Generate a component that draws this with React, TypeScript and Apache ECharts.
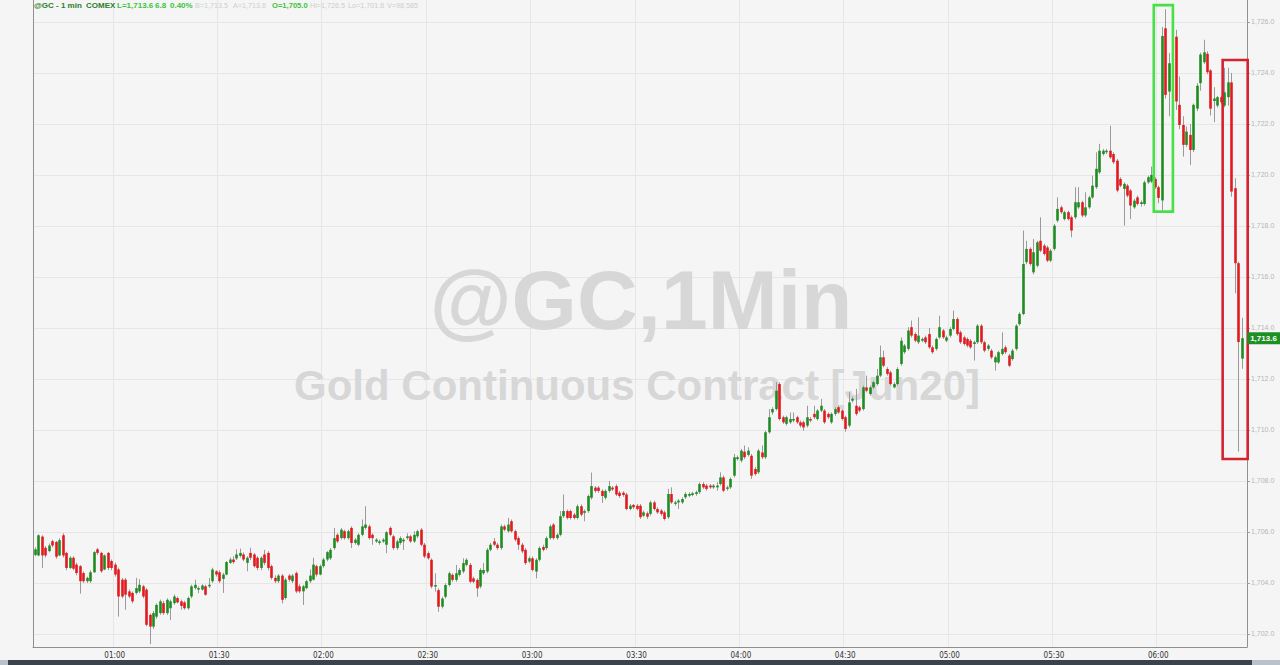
import React, { useEffect, useRef } from 'react';
import * as echarts from 'echarts';

// ---------------- DATA ----------------
const opens: (number | null)[] = [
  1705.10, 1705.08, 1705.82, 1705.38, 1705.25, 1705.64, 1705.61, 1705.08, 1705.87, 1705.18,
  1704.59, 1704.99, 1704.72, 1704.66, 1704.39, 1704.07, 1704.07, 1704.42, 1705.32, 1705.18,
  1704.53, 1705.18, 1704.86, 1704.72, 1704.53, 1704.13, 1704.13, 1703.67, 1703.61, 1703.61,
  1703.67, 1703.87, 1703.74, 1702.75, 1702.29, 1702.68, 1702.82, 1703.21, 1702.82, 1703.01,
  1703.21, 1703.41, 1703.28, 1703.24, 1703.01, 1703.47, 1703.80, 1703.74, 1703.74, 1703.87,
  1703.87, 1704.07, 1704.46, 1704.42, 1704.16, 1704.33, 1704.79, 1704.92, 1704.96, 1705.06,
  1705.12, 1704.79, 1705.18, 1705.12, 1704.99, 1704.59, 1705.12, 1705.18, 1704.66, 1704.20,
  1704.07, 1704.29, 1703.41, 1704.29, 1704.07, 1704.39, 1703.87, 1703.67, 1703.80, 1704.07,
  1704.13, 1704.66, 1704.33, 1704.66, 1704.92, 1704.97, 1705.37, 1705.89, 1705.76, 1706.03,
  1705.76, 1706.16, 1705.57, 1705.50, 1705.89, 1706.16, 1706.22, 1705.89, 1705.63, 1705.57,
  1705.63, 1705.50, 1706.16, 1705.83, 1705.37, 1705.57, 1705.63, 1705.76, 1705.83, 1705.63,
  1705.83, 1706.09, 1705.50, 1705.17, 1704.91, 1703.86, 1703.72, 1703.07, 1703.46, 1703.92,
  1704.32, 1704.12, 1704.32, 1704.45, 1704.71, 1704.71, 1704.18, 1704.12, 1703.86, 1704.38,
  1704.45, 1705.30, 1705.63, 1705.50, 1705.37, 1706.22, 1706.03, 1706.42, 1706.03, 1705.76,
  1705.50, 1705.30, 1704.84, 1704.97, 1704.45, 1704.91, 1705.41, 1705.37, 1705.76, 1706.29,
  1705.76, 1705.89, 1706.62, 1706.82, 1706.82, 1706.68, 1706.55, 1707.01, 1706.75, 1706.82,
  1707.34, 1707.74, 1707.74, 1707.61, 1707.34, 1707.61, 1707.74, 1707.80, 1707.54, 1707.54,
  1707.47, 1706.90, 1707.06, 1707.03, 1707.03, 1706.64, 1706.73, 1706.71, 1707.16, 1706.90,
  1706.84, 1706.77, 1706.58, 1707.49, 1707.10, 1707.16, 1707.16, 1707.36, 1707.42, 1707.45,
  1707.49, 1707.56, 1707.88, 1707.82, 1707.82, 1707.75, 1707.75, 1707.88, 1708.14, 1707.69,
  1707.75, 1708.21, 1708.86, 1708.80, 1709.15, 1709.02, 1708.99, 1708.47, 1708.34, 1709.12,
  1708.93, 1709.91, 1710.69, 1710.82, 1711.80, 1710.50, 1710.24, 1710.30, 1710.37, 1710.50,
  1710.30, 1710.30, 1710.17, 1710.43, 1710.63, 1710.43, 1710.76, 1710.76, 1710.63, 1710.30,
  1710.63, 1710.89, 1710.76, 1710.50, 1710.17, 1711.15, 1710.95, 1710.89, 1710.82, 1711.67,
  1711.41, 1711.67, 1711.80, 1712.13, 1712.85, 1712.39, 1712.26, 1711.67, 1711.80, 1712.59,
  1713.05, 1713.18, 1714.03, 1713.76, 1713.44, 1713.50, 1713.63, 1713.76, 1713.24, 1713.18,
  1713.63, 1713.90, 1713.50, 1713.70, 1713.96, 1714.35, 1713.83, 1713.63, 1713.57, 1713.50,
  1713.37, 1713.44, 1714.09, 1713.44, 1713.18, 1713.11, 1712.65, 1712.65, 1712.98, 1713.24,
  1712.92, 1712.78, 1713.18, 1714.15, 1714.55, 1716.58, 1717.10, 1716.18, 1716.44, 1717.42,
  1717.23, 1717.16, 1716.64, 1717.10, 1718.21, 1718.73, 1718.27, 1718.54, 1718.34, 1718.34,
  1718.73, 1718.93, 1718.41, 1718.73, 1719.12, 1719.52, 1720.10, 1720.82, 1720.89, 1720.95,
  1720.82, 1720.56, 1719.84, 1719.45, 1719.58, 1719.39, 1718.73, 1719.12, 1718.86, 1718.86,
  1719.71, 1719.74, 1719.84, 1719.52, 1719.00, 1725.75, 1723.27, null, 1725.42, 1722.75,
  1721.96, 1721.18, 1721.57, 1720.98, 1722.60, 1723.60, 1724.42, 1724.75, 1724.10, 1722.90,
  1722.72, 1723.05, 1722.72, 1723.05, 1723.63, 1719.48, 1716.54, 1712.80,
];

const closes: (number | null)[] = [
  1705.32, 1705.87, 1705.08, 1705.08, 1705.47, 1705.47, 1705.03, 1705.68, 1705.08, 1704.59,
  1704.99, 1704.56, 1704.39, 1704.07, 1704.07, 1704.20, 1704.42, 1705.21, 1705.18, 1704.46,
  1705.08, 1704.59, 1704.59, 1704.33, 1703.47, 1703.47, 1703.54, 1703.47, 1703.28, 1703.80,
  1703.93, 1703.47, 1702.36, 1702.29, 1702.82, 1703.14, 1703.28, 1702.82, 1703.34, 1703.28,
  1703.47, 1703.24, 1703.10, 1703.01, 1703.41, 1703.87, 1703.93, 1703.80, 1703.90, 1703.54,
  1703.93, 1704.53, 1704.33, 1704.07, 1704.33, 1704.82, 1704.92, 1704.82, 1705.12, 1705.18,
  1704.92, 1704.99, 1704.99, 1704.66, 1704.59, 1704.99, 1704.79, 1704.59, 1704.20, 1704.07,
  1704.29, 1703.34, 1704.13, 1704.13, 1704.29, 1703.67, 1703.67, 1703.87, 1704.07, 1704.29,
  1704.72, 1704.33, 1704.66, 1704.92, 1705.21, 1705.30, 1705.76, 1705.63, 1706.09, 1705.76,
  1706.03, 1705.57, 1705.70, 1705.89, 1706.22, 1706.29, 1705.76, 1705.76, 1705.70, 1705.63,
  1705.70, 1705.99, 1705.89, 1705.37, 1705.63, 1705.76, 1705.70, 1705.83, 1705.63, 1705.89,
  1706.03, 1705.50, 1705.04, 1704.97, 1703.86, 1703.92, 1703.07, 1703.39, 1703.92, 1704.38,
  1704.12, 1704.38, 1704.51, 1704.78, 1704.91, 1704.05, 1704.05, 1703.79, 1704.51, 1704.51,
  1705.30, 1705.50, 1705.50, 1705.37, 1706.22, 1706.09, 1706.29, 1706.03, 1705.70, 1705.50,
  1705.24, 1704.78, 1704.97, 1704.51, 1704.91, 1705.37, 1705.30, 1705.76, 1706.22, 1705.76,
  1705.89, 1706.62, 1706.82, 1706.55, 1706.55, 1706.55, 1707.01, 1706.68, 1706.82, 1707.41,
  1707.80, 1707.61, 1707.61, 1707.41, 1707.61, 1707.80, 1707.67, 1707.47, 1707.41, 1707.45,
  1706.90, 1707.03, 1706.97, 1706.90, 1706.58, 1706.77, 1706.60, 1707.16, 1706.90, 1706.77,
  1706.71, 1706.51, 1707.49, 1707.16, 1707.16, 1707.23, 1707.29, 1707.49, 1707.49, 1707.52,
  1707.56, 1707.88, 1707.75, 1707.69, 1707.75, 1707.82, 1707.82, 1708.14, 1707.62, 1707.75,
  1708.08, 1708.93, 1708.93, 1709.19, 1708.93, 1709.19, 1708.21, 1708.27, 1709.19, 1708.93,
  1709.91, 1710.50, 1710.82, 1711.54, 1710.43, 1710.30, 1710.50, 1710.43, 1710.43, 1710.30,
  1710.17, 1710.10, 1710.50, 1710.37, 1710.50, 1710.76, 1710.95, 1710.30, 1710.50, 1710.63,
  1710.82, 1710.69, 1710.43, 1710.04, 1711.08, 1711.22, 1710.63, 1710.76, 1711.67, 1711.54,
  1711.67, 1711.87, 1712.13, 1712.85, 1712.52, 1712.20, 1711.80, 1711.80, 1712.39, 1713.50,
  1713.31, 1713.90, 1713.70, 1713.50, 1713.70, 1713.57, 1713.44, 1713.24, 1713.05, 1713.57,
  1714.03, 1713.63, 1713.63, 1713.96, 1714.35, 1713.76, 1713.44, 1713.37, 1713.31, 1713.24,
  1713.44, 1714.09, 1713.44, 1713.11, 1713.31, 1712.85, 1712.85, 1713.05, 1713.18, 1713.05,
  1712.52, 1713.11, 1714.09, 1714.55, 1716.51, 1717.10, 1716.51, 1716.97, 1717.36, 1717.03,
  1716.90, 1716.64, 1717.03, 1718.01, 1718.67, 1718.54, 1718.54, 1718.27, 1717.82, 1718.93,
  1718.93, 1718.41, 1718.73, 1719.12, 1719.58, 1720.24, 1720.95, 1720.95, 1720.95, 1720.69,
  1720.50, 1719.39, 1719.58, 1719.65, 1719.19, 1718.80, 1718.99, 1718.86, 1718.93, 1719.71,
  1719.91, 1720.00, 1719.52, 1719.10, 1725.45, 1723.14, 1724.38, null, 1722.88, 1721.96,
  1721.18, 1721.70, 1720.98, 1722.75, 1723.50, 1724.72, 1724.81, 1724.03, 1722.60, 1723.00,
  1723.05, 1722.85, 1723.24, 1723.63, 1719.35, 1716.54, 1713.45, 1713.60,
];

const lows: (number | null)[] = [
  1705.05, 1705.05, 1704.59, 1705.00, 1705.20, 1705.40, 1704.95, 1705.05, 1705.00, 1704.50,
  1704.55, 1704.50, 1704.30, 1703.58, 1704.00, 1704.00, 1704.00, 1704.40, 1705.10, 1704.40,
  1704.50, 1704.50, 1704.50, 1704.25, 1702.68, 1703.40, 1702.95, 1703.40, 1703.20, 1703.55,
  1703.60, 1703.40, 1702.30, 1701.60, 1702.20, 1702.60, 1702.75, 1702.75, 1702.75, 1702.55,
  1703.15, 1703.20, 1702.95, 1702.95, 1702.95, 1703.40, 1703.75, 1703.60, 1703.70, 1703.50,
  1703.80, 1704.00, 1704.25, 1704.00, 1703.61, 1704.30, 1704.75, 1704.75, 1704.90, 1705.00,
  1704.85, 1704.46, 1704.90, 1704.60, 1704.50, 1704.50, 1704.70, 1704.50, 1704.13, 1704.00,
  1704.00, 1703.20, 1703.35, 1704.05, 1704.00, 1703.60, 1703.60, 1703.14, 1703.75, 1704.00,
  1704.10, 1704.25, 1704.30, 1704.60, 1704.85, 1704.90, 1705.30, 1705.57, 1705.70, 1705.70,
  1705.70, 1705.37, 1705.50, 1705.44, 1705.83, 1706.10, 1705.70, 1705.50, 1705.57, 1705.50,
  1705.57, 1705.17, 1705.83, 1705.30, 1705.30, 1705.50, 1705.30, 1705.70, 1705.57, 1705.57,
  1705.76, 1705.44, 1704.97, 1704.91, 1703.79, 1703.66, 1702.87, 1703.00, 1703.39, 1703.86,
  1704.05, 1704.05, 1704.25, 1704.38, 1704.65, 1703.99, 1703.99, 1703.46, 1703.79, 1704.32,
  1704.38, 1705.24, 1705.44, 1705.30, 1705.30, 1706.03, 1705.97, 1705.97, 1705.63, 1705.30,
  1705.17, 1704.71, 1704.78, 1704.45, 1704.18, 1704.84, 1705.24, 1705.30, 1705.70, 1705.70,
  1705.70, 1705.83, 1706.55, 1706.49, 1706.49, 1706.49, 1706.49, 1706.62, 1706.42, 1706.75,
  1707.27, 1707.54, 1707.54, 1707.14, 1707.27, 1707.54, 1707.61, 1707.41, 1707.34, 1707.38,
  1706.85, 1706.85, 1706.90, 1706.84, 1706.51, 1706.58, 1706.51, 1706.64, 1706.84, 1706.71,
  1706.64, 1706.45, 1706.51, 1707.10, 1707.03, 1706.90, 1707.10, 1707.29, 1707.36, 1707.40,
  1707.42, 1707.49, 1707.69, 1707.62, 1707.69, 1707.69, 1707.62, 1707.82, 1707.56, 1707.62,
  1707.69, 1708.14, 1708.80, 1708.73, 1708.86, 1708.96, 1708.08, 1708.21, 1708.27, 1708.86,
  1708.86, 1709.85, 1710.60, 1710.76, 1710.37, 1710.24, 1710.17, 1710.24, 1710.30, 1710.24,
  1710.10, 1709.97, 1710.10, 1710.30, 1710.43, 1710.37, 1710.70, 1710.24, 1710.43, 1710.24,
  1710.56, 1710.63, 1710.37, 1709.93, 1710.10, 1711.08, 1710.56, 1710.69, 1710.76, 1711.48,
  1711.35, 1711.61, 1711.74, 1712.07, 1712.46, 1712.13, 1711.74, 1711.63, 1711.74, 1712.52,
  1712.98, 1713.11, 1713.63, 1713.44, 1713.37, 1713.44, 1713.37, 1713.18, 1712.98, 1713.11,
  1713.57, 1713.57, 1713.44, 1713.63, 1713.90, 1713.70, 1713.37, 1713.31, 1713.24, 1713.18,
  1712.72, 1713.37, 1713.37, 1713.05, 1713.11, 1712.78, 1712.33, 1712.59, 1712.92, 1712.98,
  1712.46, 1712.72, 1713.11, 1714.09, 1714.50, 1716.50, 1716.44, 1716.10, 1716.38, 1716.97,
  1716.84, 1716.58, 1716.58, 1717.03, 1718.14, 1718.47, 1718.21, 1718.21, 1717.56, 1718.27,
  1718.67, 1718.34, 1718.34, 1718.67, 1719.06, 1719.45, 1720.04, 1720.76, 1720.82, 1720.63,
  1720.43, 1719.32, 1719.52, 1718.01, 1719.12, 1718.27, 1718.67, 1718.80, 1718.76, 1718.80,
  1719.65, 1719.68, 1719.45, 1718.89, 1718.60, 1723.00, 1722.30, null, 1722.55, 1721.80,
  1720.72, 1721.10, 1720.39, 1720.90, 1722.50, 1723.30, 1724.35, 1723.95, 1722.33, 1722.07,
  1722.65, 1722.78, 1722.65, 1722.72, 1719.15, 1715.36, 1709.15, 1712.40,
];

const highs: (number | null)[] = [
  1705.40, 1705.91, 1705.87, 1705.45, 1705.55, 1705.70, 1705.65, 1705.75, 1705.95, 1705.22,
  1705.05, 1705.05, 1704.80, 1704.70, 1704.45, 1704.25, 1704.50, 1705.25, 1705.38, 1705.22,
  1705.12, 1705.22, 1704.92, 1704.80, 1704.60, 1704.20, 1704.20, 1703.75, 1703.67, 1704.20,
  1704.15, 1703.93, 1703.80, 1702.80, 1702.90, 1703.20, 1703.35, 1703.30, 1703.40, 1703.35,
  1703.55, 1703.47, 1703.35, 1703.30, 1703.47, 1703.93, 1704.13, 1703.87, 1703.95, 1703.93,
  1704.20, 1704.60, 1704.50, 1704.50, 1704.40, 1704.86, 1705.00, 1705.05, 1705.32, 1705.35,
  1705.20, 1705.05, 1705.38, 1705.18, 1705.05, 1705.05, 1705.30, 1705.25, 1704.72, 1704.30,
  1704.35, 1704.35, 1704.20, 1704.35, 1704.35, 1704.45, 1703.95, 1703.93, 1704.13, 1704.53,
  1704.99, 1704.72, 1704.72, 1704.99, 1705.25, 1705.37, 1706.16, 1705.95, 1706.16, 1706.09,
  1706.09, 1706.22, 1705.76, 1705.95, 1706.49, 1707.01, 1706.29, 1705.95, 1705.76, 1705.70,
  1705.76, 1706.03, 1706.22, 1705.89, 1705.70, 1705.83, 1705.76, 1705.95, 1705.89, 1706.03,
  1706.09, 1706.16, 1705.57, 1705.24, 1704.97, 1704.38, 1703.79, 1703.46, 1703.99, 1704.45,
  1704.38, 1704.71, 1704.58, 1704.97, 1704.97, 1704.78, 1704.25, 1704.18, 1704.58, 1704.78,
  1705.37, 1705.57, 1705.76, 1705.57, 1706.29, 1706.29, 1706.55, 1706.49, 1706.09, 1705.83,
  1705.57, 1705.37, 1705.04, 1705.04, 1704.97, 1705.44, 1705.50, 1705.83, 1706.29, 1706.35,
  1705.95, 1706.82, 1707.47, 1706.88, 1706.88, 1706.75, 1707.08, 1707.08, 1706.88, 1707.47,
  1708.33, 1707.80, 1707.80, 1707.67, 1707.67, 1708.00, 1707.80, 1707.87, 1707.61, 1707.60,
  1707.54, 1707.10, 1707.10, 1707.10, 1707.10, 1706.84, 1706.80, 1707.23, 1707.23, 1706.97,
  1706.90, 1706.84, 1707.69, 1707.75, 1707.23, 1707.29, 1707.36, 1707.56, 1707.56, 1707.58,
  1707.62, 1707.95, 1707.95, 1707.88, 1707.88, 1707.88, 1707.95, 1708.34, 1708.21, 1707.82,
  1708.14, 1709.06, 1709.00, 1709.26, 1709.39, 1709.32, 1709.06, 1708.55, 1709.26, 1709.39,
  1709.97, 1710.82, 1710.89, 1711.87, 1711.87, 1710.56, 1710.56, 1710.69, 1710.69, 1710.56,
  1710.37, 1710.37, 1710.95, 1710.50, 1710.95, 1710.82, 1711.22, 1710.82, 1710.69, 1710.69,
  1710.89, 1710.95, 1710.82, 1710.56, 1711.48, 1711.30, 1711.61, 1710.95, 1711.74, 1712.13,
  1711.74, 1711.93, 1712.39, 1713.31, 1713.11, 1712.46, 1712.33, 1711.87, 1712.46, 1713.63,
  1713.37, 1714.03, 1714.29, 1713.83, 1714.42, 1713.63, 1713.70, 1714.00, 1713.31, 1713.63,
  1714.48, 1713.96, 1713.70, 1714.03, 1714.68, 1714.42, 1713.90, 1713.70, 1713.63, 1713.57,
  1713.50, 1714.15, 1714.15, 1713.50, 1713.37, 1713.18, 1712.92, 1713.11, 1713.83, 1713.31,
  1712.98, 1713.18, 1714.15, 1714.62, 1717.82, 1717.42, 1717.16, 1717.49, 1717.42, 1718.34,
  1717.30, 1717.23, 1717.10, 1718.08, 1719.12, 1718.80, 1718.60, 1718.60, 1718.41, 1719.52,
  1719.52, 1718.99, 1719.32, 1719.19, 1719.97, 1720.89, 1721.22, 1721.02, 1721.02, 1721.93,
  1720.89, 1720.63, 1719.91, 1719.71, 1719.65, 1719.45, 1719.06, 1719.19, 1719.00, 1719.78,
  1719.97, 1720.33, 1719.91, 1719.58, 1725.80, 1726.50, 1724.78, null, 1725.69, 1723.86,
  1722.30, 1721.90, 1722.00, 1722.80, 1723.60, 1724.80, 1725.30, 1724.85, 1724.15, 1723.44,
  1723.10, 1723.10, 1724.20, 1724.20, 1724.00, 1719.87, 1716.60, 1714.40,
];

const sessionStart = '00:37';
const slotCount = 349;
const timeTicks = ['01:00', '01:30', '02:00', '02:30', '03:00', '03:30', '04:00', '04:30', '05:00', '05:30', '06:00'];
const priceTicks = [1702, 1704, 1706, 1708, 1710, 1712, 1714, 1716, 1718, 1720, 1722, 1724, 1726];
const priceMin = 1701.49;
const priceMax = 1726.86;

const headerTexts = [
  '@GC - 1 min', 'COMEX', 'L=1,713.6', '6.8', '0.40%', 'B=1,713.5', 'A=1,713.6',
  'O=1,705.0', 'Hi=1,726.5', 'Lo=1,701.6', 'V=98,585',
];
const watermarkTitle = '@GC,1Min';
const watermarkSubtitle = 'Gold Continuous Contract [Jun20]';

// annotation boxes in data units: [fromIndex, toIndex, lowPrice, highPrice]
const greenBox = [321.7, 327.2, 1718.56, 1726.66];
const redBox = [341.5, 348.7, 1708.86, 1724.51];

// ---------------- STYLE ----------------
const BG = '#f5f5f5';
const UP = '#1f8c22';
const DOWN = '#e2191f';
const WICK = '#9a9a9a';
const GRID_LINE = '#e6e6e6';
const headerLayout = [
  { x: 34, fill: '#2a7d2a', bold: true, size: 8 },
  { x: 86, fill: '#2a7d2a', bold: true, size: 8 },
  { x: 117, fill: '#3cc43c', bold: true, size: 8 },
  { x: 155, fill: '#3cc43c', bold: true, size: 8 },
  { x: 170, fill: '#3cc43c', bold: true, size: 8 },
  { x: 195, fill: '#cdcdcd', bold: false, size: 7.2 },
  { x: 233, fill: '#cdcdcd', bold: false, size: 7.2 },
  { x: 272, fill: '#3cc43c', bold: true, size: 7.6 },
  { x: 310, fill: '#cdcdcd', bold: false, size: 7.2 },
  { x: 348, fill: '#cdcdcd', bold: false, size: 7.2 },
  { x: 387, fill: '#cdcdcd', bold: false, size: 7.2 },
];

function fmtPrice(v: number): string {
  const s = v.toFixed(1);
  const [a, b] = s.split('.');
  return a.replace(/\B(?=(\d{3})+(?!\d))/g, ',') + '.' + b;
}

const categories: string[] = (() => {
  const [h0, m0] = sessionStart.split(':').map(Number);
  const out: string[] = [];
  for (let k = 0; k < slotCount; k++) {
    const t = h0 * 60 + m0 + k;
    out.push(String(Math.floor(t / 60)).padStart(2, '0') + ':' + String(t % 60).padStart(2, '0'));
  }
  return out;
})();

const candleData = opens
  .map((o, i) => (o == null ? null : [i, o, closes[i], lows[i], highs[i]]))
  .filter((r) => r !== null) as number[][];

function textEl(text: string, x: number, y: number, o: any) {
  return {
    type: 'text',
    x,
    y,
    silent: true,
    z: o.z ?? 1,
    style: {
      text,
      fill: o.fill,
      fontSize: o.size,
      fontWeight: o.weight ?? 'normal',
      fontFamily: o.family ?? 'Liberation Sans, Arial, sans-serif',
      align: o.align ?? 'left',
      verticalAlign: 'middle',
      textAlign: o.align ?? 'left',
      textVerticalAlign: 'middle',
    },
  };
}

export default function App() {
  const ref = useRef<HTMLDivElement>(null);

  useEffect(() => {
    if (!ref.current) return;
    const chart = echarts.init(ref.current, undefined, { renderer: 'svg' });

    const renderItem = (params: any, api: any) => {
      const idx = api.value(0);
      const o = api.value(1);
      const c = api.value(2);
      const l = api.value(3);
      const h = api.value(4);
      const pTop = api.coord([idx, Math.max(o, c)]);
      const pBot = api.coord([idx, Math.min(o, c)]);
      const pHi = api.coord([idx, h]);
      const pLo = api.coord([idx, l]);
      const cx = Math.round(pTop[0]) + 0.5;
      const bw = 2.6;
      return {
        type: 'group',
        children: [
          {
            type: 'line',
            shape: { x1: cx, y1: pHi[1], x2: cx, y2: pLo[1] },
            style: { stroke: WICK, lineWidth: 1 },
          },
          {
            type: 'rect',
            shape: { x: cx - bw / 2, y: pTop[1], width: bw, height: Math.max(pBot[1] - pTop[1], 1) },
            style: { fill: c >= o ? UP : DOWN },
          },
        ],
      };
    };

    const isTick = (_i: number, v: string) => timeTicks.includes(v);

    chart.setOption({
      animation: false,
      backgroundColor: BG,
      grid: { left: 33, right: 33, top: 0, bottom: 18, containLabel: false },
      xAxis: {
        type: 'category',
        data: categories,
        boundaryGap: true,
        axisLine: { show: true, lineStyle: { color: '#8f8f8f', width: 1 } },
        axisTick: { show: false },
        axisLabel: {
          interval: isTick,
          color: '#333333',
          fontSize: 8,
          margin: 4,
          fontFamily: "'Liberation Sans Narrow', 'DejaVu Sans Condensed', 'Liberation Sans', sans-serif",
        },
        splitLine: { show: true, interval: isTick, lineStyle: { color: GRID_LINE, width: 1 } },
      },
      yAxis: {
        type: 'value',
        position: 'right',
        min: priceMin,
        max: priceMax,
        scale: true,
        axisLine: { show: true, lineStyle: { color: '#8f8f8f', width: 1 } },
        axisTick: { show: true, customValues: priceTicks, length: 3, lineStyle: { color: '#a0a0a0' } },
        axisLabel: {
          customValues: priceTicks,
          formatter: (v: number) => fmtPrice(v),
          color: '#b5b5b5',
          fontSize: 7,
          margin: 4,
          fontFamily: 'Liberation Sans, Arial, sans-serif',
        },
        splitLine: { show: true, lineStyle: { color: GRID_LINE, width: 1 } },
      },
      series: [
        {
          type: 'custom',
          renderItem,
          encode: { x: 0, y: [1, 2, 3, 4] },
          data: candleData,
          clip: true,
          z: 5,
        },
      ],
    });

    // pixel helpers from the chart's own scales
    const x0 = chart.convertToPixel({ xAxisIndex: 0 }, 0) as number;
    const x1 = chart.convertToPixel({ xAxisIndex: 0 }, 1) as number;
    const slot = x1 - x0;
    const xAt = (fi: number) => x0 + fi * slot;
    const yAt = (p: number) => chart.convertToPixel({ yAxisIndex: 0 }, p) as number;
    const W = chart.getWidth();
    const H = chart.getHeight();
    const plotLeft = x0 - slot / 2;
    const plotRight = W - 33;
    const plotBottom = yAt(priceMin);

    const lastIdx = closes.length - 1;
    const lastClose = closes[lastIdx] as number;
    const yLast = yAt(lastClose);

    const box = (b: number[], stroke: string) => ({
      type: 'rect',
      z: 50,
      silent: true,
      shape: { x: xAt(b[0]), y: yAt(b[3]), width: xAt(b[1]) - xAt(b[0]), height: yAt(b[2]) - yAt(b[3]) },
      style: { fill: 'none', stroke, lineWidth: 2.6 },
    });

    const elements: any[] = [
      textEl(watermarkTitle, 641, 300, { fill: '#d7d7d7', size: 84, weight: 'bold', align: 'center', z: 0 }),
      textEl(watermarkSubtitle, 637, 385, { fill: '#d7d7d7', size: 42, weight: 'bold', align: 'center', z: 0 }),
      {
        type: 'line',
        z: 10,
        silent: true,
        shape: { x1: Math.round(plotLeft) + 0.5, y1: 0, x2: Math.round(plotLeft) + 0.5, y2: plotBottom },
        style: { stroke: '#8f8f8f', lineWidth: 1 },
      },
      { type: 'rect', z: 10, silent: true, shape: { x: 0, y: H - 5, width: W, height: 5 }, style: { fill: '#38434e' } },
      { type: 'rect', z: 11, silent: true, shape: { x: 0, y: H - 5, width: 8, height: 5 }, style: { fill: '#b8c2cd' } },
      { type: 'rect', z: 11, silent: true, shape: { x: W - 28, y: H - 5, width: 28, height: 5 }, style: { fill: '#b8c2cd' } },
      box(greenBox, '#47e047'),
      box(redBox, '#d42230'),
      {
        type: 'rect',
        z: 60,
        silent: true,
        shape: { x: plotRight, y: yLast - 6, width: W - plotRight, height: 12 },
        style: { fill: '#1e8f22' },
      },
      textEl(fmtPrice(lastClose), plotRight + (W - plotRight) / 2, yLast, {
        fill: '#ffffff', size: 8, weight: 'bold', align: 'center', z: 61,
      }),
    ];
    headerTexts.forEach((t, i) => {
      const L = headerLayout[i];
      elements.push(textEl(t, L.x, 5.5, { fill: L.fill, size: L.size, weight: L.bold ? 'bold' : 'normal', z: 30 }));
    });

    chart.setOption({ graphic: { elements } });

    return () => chart.dispose();
  }, []);

  return (
    <div
      ref={ref}
      style={{ position: 'fixed', left: 0, top: 0, width: 1280, height: 665, background: BG }}
    />
  );
}
